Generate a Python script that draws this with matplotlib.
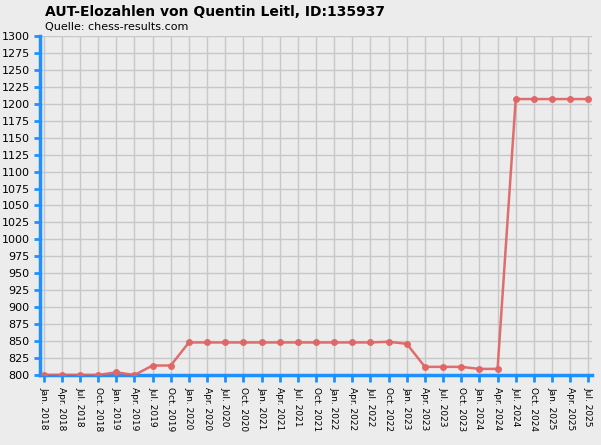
import matplotlib
matplotlib.use("Agg")
import matplotlib.pyplot as plt

labels = []
for y in range(2018, 2026):
    for m in ["Jan.", "Apr.", "Jul.", "Oct."]:
        labels.append(f"{m} {y}")
labels = labels[:31]
values = [800, 800, 800, 800, 804, 800, 814, 814, 848, 848, 848, 848, 848, 848, 848, 848,
          848, 848, 848, 849, 846, 812, 812, 812, 809, 809, 1207, 1207, 1207, 1207, 1207]

fig = plt.figure(figsize=(6.01, 4.45), dpi=100, facecolor="#ececec")
ax = fig.add_axes([40/601, 1-375/445, 552/601, 339/445], facecolor="#ececec")
x = list(range(len(values)))
ax.plot(x, values, color="#e06666", lw=1.8, marker="o", ms=4, alpha=0.95, zorder=3)
ax.set_xlim(-0.2, 30.2)
ax.set_ylim(800, 1300)
ax.set_yticks(range(800, 1301, 25))
ax.set_xticks(x)
ax.set_xticklabels(labels, rotation=-90, fontsize=6.5)
ax.tick_params(axis="y", labelsize=8, colors="#1e90ff", labelcolor="black", length=4, width=2)
ax.tick_params(axis="x", colors="#1e90ff", labelcolor="black", length=5, width=2)
ax.grid(True, color="#c8c8c8", lw=1)
for s in ["top", "right"]:
    ax.spines[s].set_visible(False)
for s in ["left", "bottom"]:
    ax.spines[s].set_color("#1e90ff")
    ax.spines[s].set_linewidth(2.5)
fig.text(45/601, 1-12/445, "AUT-Elozahlen von Quentin Leitl, ID:135937", fontsize=10, fontweight="bold", va="center")
fig.text(45/601, 1-27/445, "Quelle: chess-results.com", fontsize=8, va="center")
fig.savefig("out.png", dpi=100, facecolor=fig.get_facecolor())
